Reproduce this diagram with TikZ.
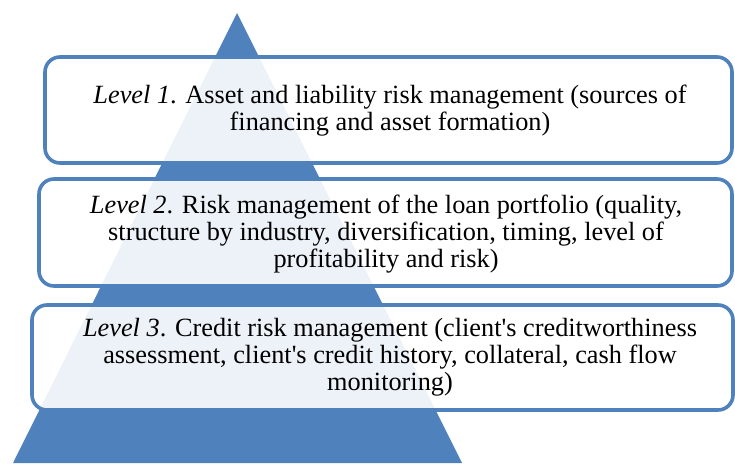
\documentclass[tikz,border=0pt]{standalone}
\usepackage{fontspec}
\setmainfont{Liberation Serif}[Ligatures=ResetAll]
\definecolor{pyrblue}{HTML}{4F81BD}
\begin{document}
\begin{tikzpicture}[x=1pt,y=-1pt,
  levelbox/.style={draw=pyrblue, line width=3.6pt, rounded corners=15pt, fill=white, fill opacity=0.9, text opacity=1, inner sep=0pt},
  leveltext/.style={align=center, font=\fontsize{26.3}{27}\selectfont, text=black, inner sep=0pt}]
\useasboundingbox (0,0) rectangle (735,463);
\fill[pyrblue] (237,13) -- (462,463) -- (13,463) -- cycle;
\node[levelbox, minimum width=687pt, minimum height=106pt] (b1) at (388.5,110) {};
\node[levelbox, minimum width=693pt, minimum height=107pt] (b2) at (385.5,232.5) {};
\node[levelbox, minimum width=701pt, minimum height=105pt] (b3) at (382.5,357.5) {};
\node[leveltext] (t1) at (390,111) {\textit{Level 1}. Asset and liability risk management (sources of\\ financing and asset formation)};
\node[leveltext] (t2) at (386,234) {\textit{Level 2}. Risk management of the loan portfolio (quality,\\ structure by industry, diversification, timing, level of\\ profitability and risk)};
\node[leveltext] (t3) at (390,357) {\textit{Level 3}. Credit risk management (client\textquotesingle s creditworthiness\\ assessment, client\textquotesingle s credit history, collateral, cash flow\\ monitoring)};
\end{tikzpicture}
\end{document}
